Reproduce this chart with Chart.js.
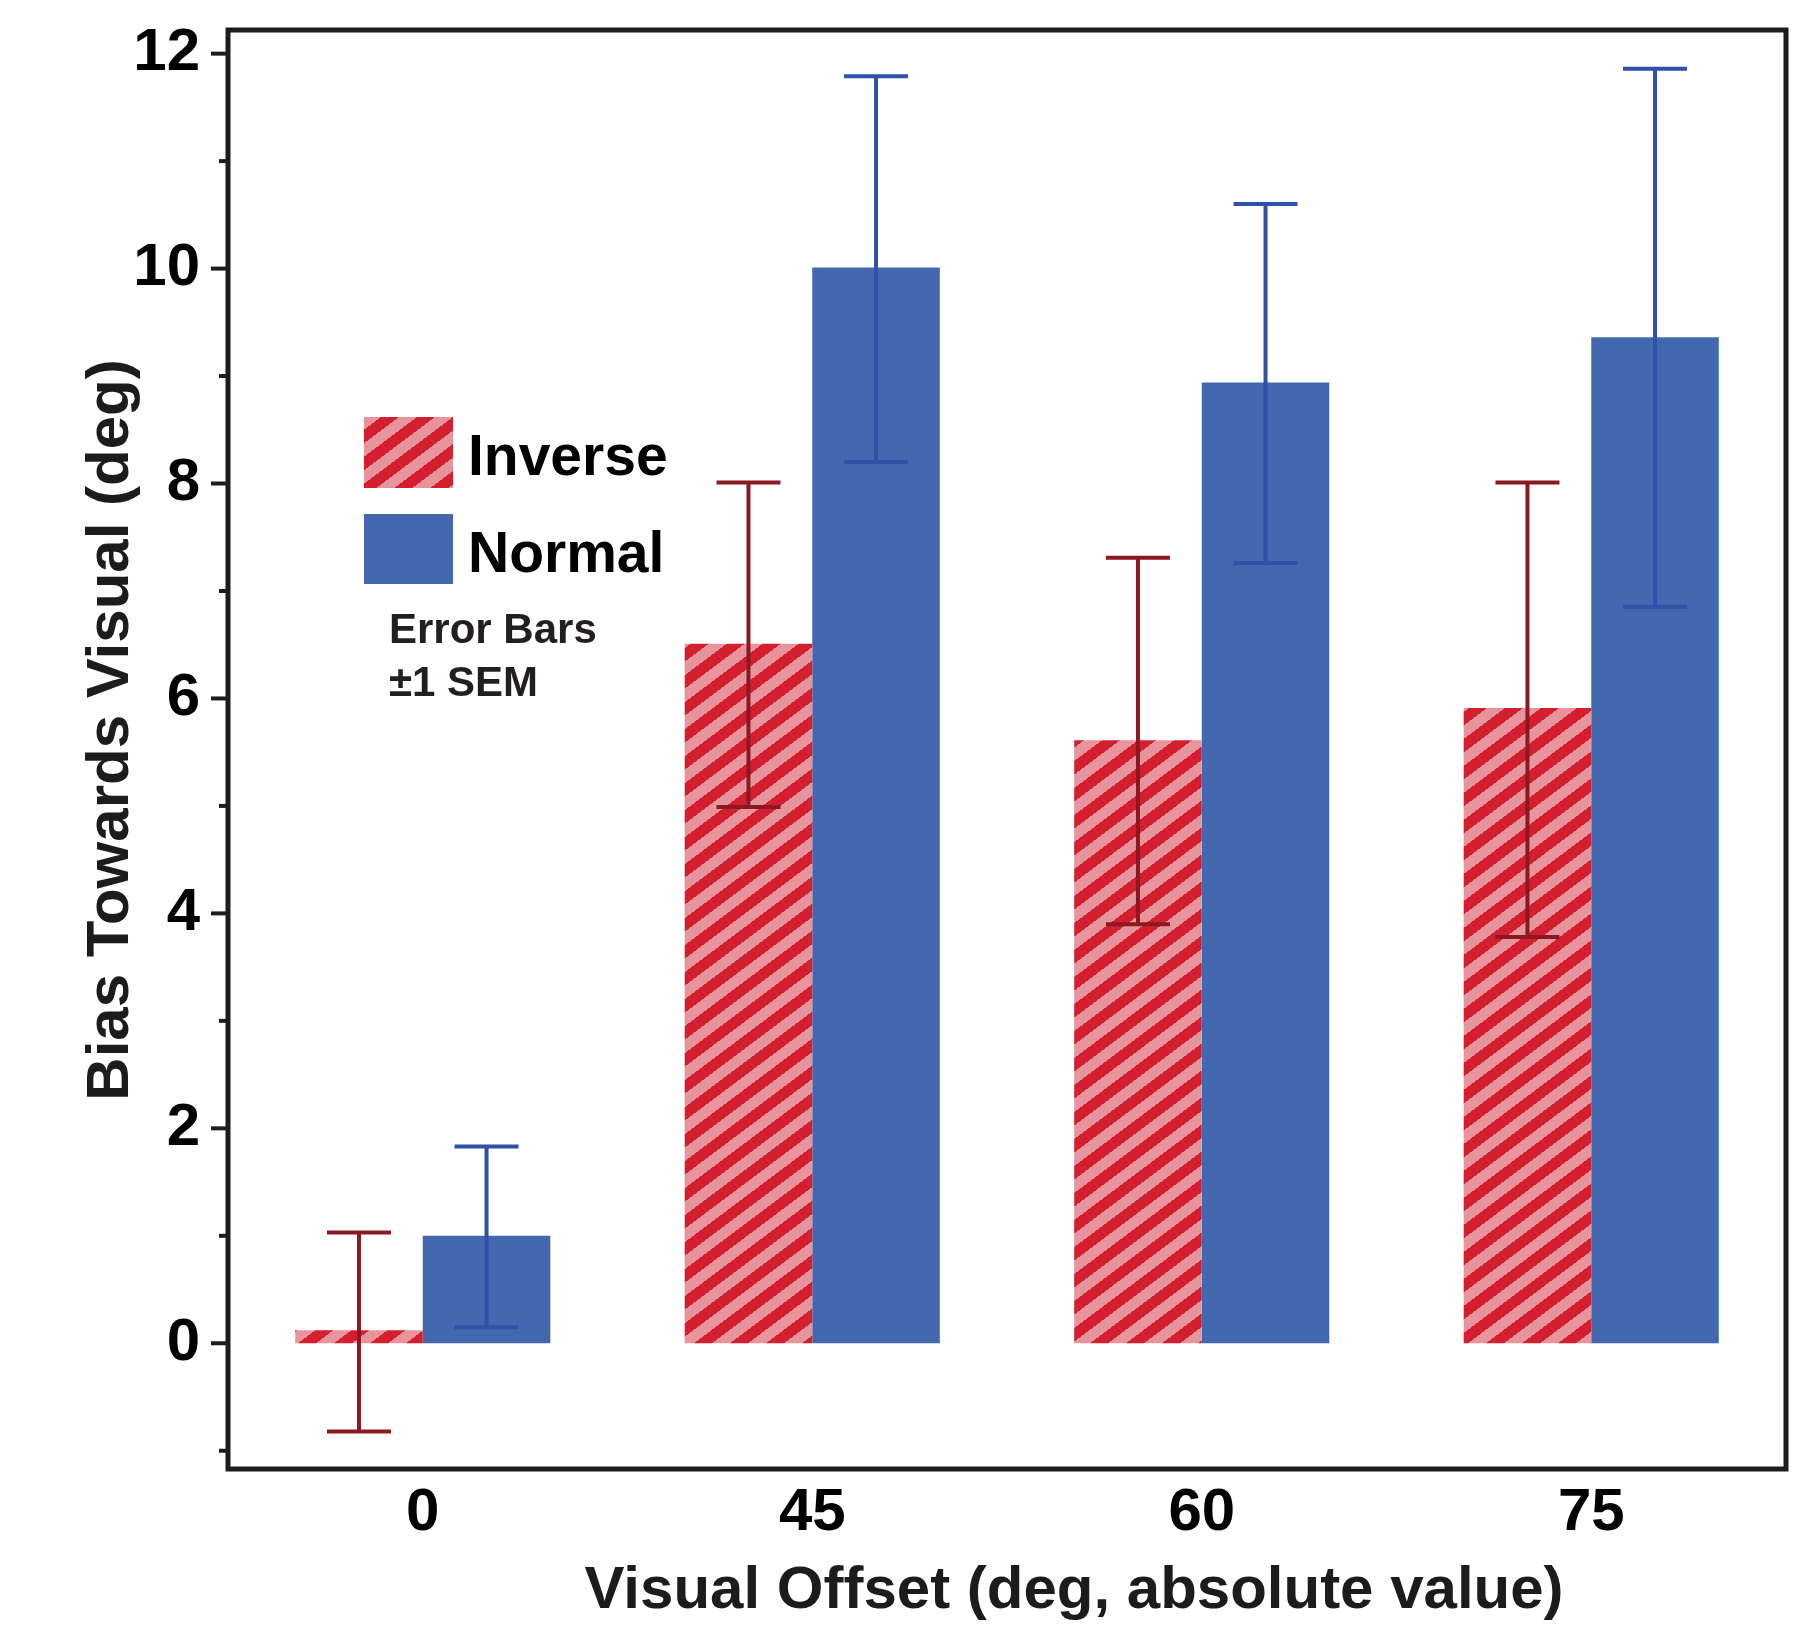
<!DOCTYPE html>
<html>
<head>
<meta charset="utf-8">
<title>Bias Towards Visual</title>
<script src="https://cdn.jsdelivr.net/npm/chart.js@4/dist/chart.umd.min.js"></script>
<style>
  html, body { margin: 0; padding: 0; background: #fff; }
  #wrap { width: 1797px; height: 1626px; }
</style>
</head>
<body>
<div id="wrap"><canvas id="chart" width="1797" height="1626"></canvas></div>
<script>
/* ===== DATA ===== */
const categories = ['0', '45', '60', '75'];

const inverseMeans = [0.12, 6.51, 5.61, 5.91];
const inverseLow   = [-0.82, 4.99, 3.90, 3.78];
const inverseHigh  = [1.03, 8.01, 7.31, 8.01];

const normalMeans = [1.00, 10.01, 8.94, 9.36];
const normalLow   = [0.15, 8.20, 7.26, 6.85];
const normalHigh  = [1.83, 11.79, 10.60, 11.86];

const yTicks = [-1, 0, 1, 2, 3, 4, 5, 6, 7, 8, 9, 10, 11, 12];
const yMin = -1.17;
const yMax = 12.22;

const xTitle = 'Visual Offset (deg, absolute value)';
const yTitle = 'Bias Towards Visual (deg)';

/* ===== STYLE ===== */
const FONT = "'Liberation Sans', Arial, Helvetica, sans-serif";
const INK = '#1e1b1c';
const BLUE = '#4468b0';
const BLUE_ERR = '#2f52a6';
const RED_ERR = '#8c1922';

// diagonal red / pink stripes, slope 3:4
function makeHatch() {
  const w = 36, h = 27;
  const c = document.createElement('canvas');
  c.width = w; c.height = h;
  const g = c.getContext('2d');
  const img = g.createImageData(w, h);
  for (let y = 0; y < h; y++) {
    for (let x = 0; x < w; x++) {
      const phase = (x / w + y / h) % 1;
      const red = phase < 0.5;
      const i = (y * w + x) * 4;
      img.data[i]     = red ? 211 : 232;
      img.data[i + 1] = red ? 31  : 148;
      img.data[i + 2] = red ? 48  : 156;
      img.data[i + 3] = 255;
    }
  }
  g.putImageData(img, 0, 0);
  return g.createPattern(c, 'repeat');
}
const hatch = makeHatch();

/* ===== PLUGINS ===== */
const errorBars = {
  id: 'errorBars',
  afterDatasetsDraw(chart) {
    const ctx = chart.ctx;
    const y = chart.scales.y;
    chart.data.datasets.forEach((ds, di) => {
      const meta = chart.getDatasetMeta(di);
      meta.data.forEach((bar, i) => {
        const top = y.getPixelForValue(ds.errHigh[i]);
        const bot = y.getPixelForValue(ds.errLow[i]);
        ctx.save();
        ctx.strokeStyle = ds.errColor;
        ctx.lineWidth = 4;
        ctx.beginPath();
        ctx.moveTo(bar.x, top);
        ctx.lineTo(bar.x, bot);
        ctx.moveTo(bar.x - 32, top);
        ctx.lineTo(bar.x + 32, top);
        ctx.moveTo(bar.x - 32, bot);
        ctx.lineTo(bar.x + 32, bot);
        ctx.stroke();
        ctx.restore();
      });
    });
  }
};

const frame = {
  id: 'frame',
  afterDraw(chart) {
    const { ctx, chartArea: a } = chart;
    const y = chart.scales.y;
    ctx.save();
    ctx.strokeStyle = INK;
    ctx.lineWidth = 5;
    ctx.strokeRect(a.left, a.top, a.right - a.left, a.bottom - a.top);
    // y tick marks, long at labelled values
    ctx.lineWidth = 4;
    y.ticks.forEach((t, i) => {
      const py = y.getPixelForTick(i);
      const len = t.value % 2 === 0 ? 17 : 9;
      ctx.beginPath();
      ctx.moveTo(a.left - len, py);
      ctx.lineTo(a.left, py);
      ctx.stroke();
    });

    // axis titles
    ctx.fillStyle = INK;
    ctx.font = `bold 60px ${FONT}`;
    ctx.textAlign = 'center';
    ctx.textBaseline = 'alphabetic';
    ctx.fillText(xTitle, 1074, 1608);
    ctx.save();
    ctx.translate(111, 730);
    ctx.rotate(-Math.PI / 2);
    ctx.textBaseline = 'middle';
    ctx.fillText(yTitle, 0, 0);
    ctx.restore();

    // legend
    ctx.textAlign = 'left';
    ctx.textBaseline = 'alphabetic';
    ctx.fillStyle = hatch;
    ctx.fillRect(364, 417, 89, 71);
    ctx.fillStyle = BLUE;
    ctx.fillRect(364, 514, 89, 70);
    ctx.fillStyle = '#000';
    ctx.font = `bold 57px ${FONT}`;
    ctx.fillText('Inverse', 468, 475);
    ctx.fillText('Normal', 468, 572);
    ctx.fillStyle = '#231f20';
    ctx.font = `bold 42px ${FONT}`;
    ctx.fillText('Error Bars', 389, 643);
    ctx.fillText('\u00b11 SEM', 389, 696);
    ctx.restore();
  }
};

/* ===== CHART ===== */
new Chart(document.getElementById('chart'), {
  type: 'bar',
  data: {
    labels: categories,
    datasets: [
      {
        label: 'Inverse',
        data: inverseMeans,
        errLow: inverseLow,
        errHigh: inverseHigh,
        errColor: RED_ERR,
        backgroundColor: hatch,
        borderWidth: 0,
        categoryPercentage: 0.655,
        barPercentage: 1.0
      },
      {
        label: 'Normal',
        data: normalMeans,
        errLow: normalLow,
        errHigh: normalHigh,
        errColor: BLUE_ERR,
        backgroundColor: BLUE,
        borderWidth: 0,
        categoryPercentage: 0.655,
        barPercentage: 1.0
      }
    ]
  },
  options: {
    responsive: false,
    animation: false,
    devicePixelRatio: 1,
    layout: { padding: { left: 0, top: 30, right: 11, bottom: 0 } },
    plugins: {
      legend: { display: false },
      tooltip: { enabled: false }
    },
    scales: {
      x: {
        grid: { display: false },
        border: { display: false },
        ticks: {
          color: '#000',
          padding: 0,
          font: { family: FONT, size: 60, weight: 'bold' }
        },
        afterFit: (s) => {
          s.height = 157;
          s.paddingLeft = 0;
          s.paddingRight = 0;
        }
      },
      y: {
        min: yMin,
        max: yMax,
        grid: { display: false },
        border: { display: false },
        afterBuildTicks: (s) => { s.ticks = yTicks.map(v => ({ value: v })); },
        ticks: {
          color: '#000',
          padding: 20,
          font: { family: FONT, size: 60, weight: 'bold' },
          callback: (v) => (v % 2 === 0 ? String(v) : '')
        },
        afterFit: (s) => {
          s.width = 228;
          s.paddingTop = 0;
          s.paddingBottom = 0;
        }
      }
    }
  },
  plugins: [errorBars, frame]
});
</script>
</body>
</html>
